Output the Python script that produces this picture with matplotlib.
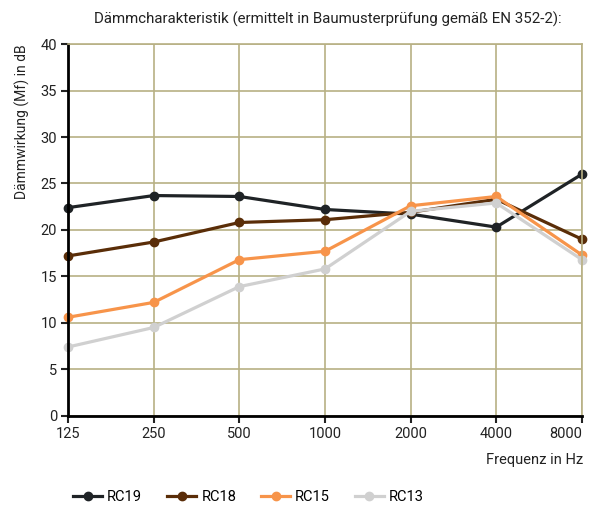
import matplotlib.pyplot as plt
import numpy as np

plt.rcParams['font.family'] = ['Roboto', 'DejaVu Sans']

freqs = ["125", "250", "500", "1000", "2000", "4000", "8000"]
rc19 = [22.4, 23.7, 23.6, 22.2, 21.7, 20.3, 26.0]
rc18 = [17.2, 18.7, 20.8, 21.1, 21.9, 23.3, 19.0]
rc15 = [10.6, 12.2, 16.8, 17.7, 22.6, 23.6, 17.3]
rc13 = [7.4, 9.5, 13.9, 15.8, 22.0, 22.9, 16.8]

series = [
    ("RC19", rc19, "#1f2326"),
    ("RC18", rc18, "#5a2d08"),
    ("RC15", rc15, "#f7944a"),
    ("RC13", rc13, "#d0d0d0"),
]

fig = plt.figure(figsize=(5.92, 5.07), dpi=100)
ax = fig.add_axes([0.115, 0.18, 0.868, 0.733])

x = np.arange(len(freqs))
for name, vals, col in series:
    ax.plot(x, vals, color=col, lw=2.3, marker="o", ms=6, label=name, clip_on=False)

grid_col = "#b8b084"
ax.set_xlim(0, len(freqs) - 1)
ax.set_ylim(0, 40)
ax.set_xticks(x)
ax.set_xticklabels(freqs)
ax.set_yticks(np.arange(0, 41, 5))
ax.grid(True, color=grid_col, lw=1.2)
ax.set_axisbelow(True)
for s in ["top", "right"]:
    ax.spines[s].set_color(grid_col)
    ax.spines[s].set_linewidth(1.2)
for s in ["left", "bottom"]:
    ax.spines[s].set_color("black")
    ax.spines[s].set_linewidth(2)
ax.tick_params(axis="both", colors="#222222", labelsize=10.5, length=5, width=1.5, pad=3)
# last label sits flush with the right end of the axis
ax.get_xticklabels()[-1].set_horizontalalignment("right")

fig.text(0.553, 0.962, "Dämmcharakteristik (ermittelt in Baumusterprüfung gemäß EN 352-2):",
         ha="center", va="center", fontsize=10.8, color="#222222")
fig.text(0.037, 0.913, "Dämmwirkung (Mf) in dB", rotation=90, ha="center", va="top",
         fontsize=10, color="#222222")
fig.text(0.985, 0.092, "Frequenz in Hz", ha="right", va="center", fontsize=10.5, color="#222222")

fig.legend(loc="lower left", bbox_to_anchor=(0.101, -0.02), ncol=4, frameon=False,
           fontsize=10.5, handlelength=2.0, columnspacing=1.7, handletextpad=0.35)

fig.savefig("out.png", dpi=100)
